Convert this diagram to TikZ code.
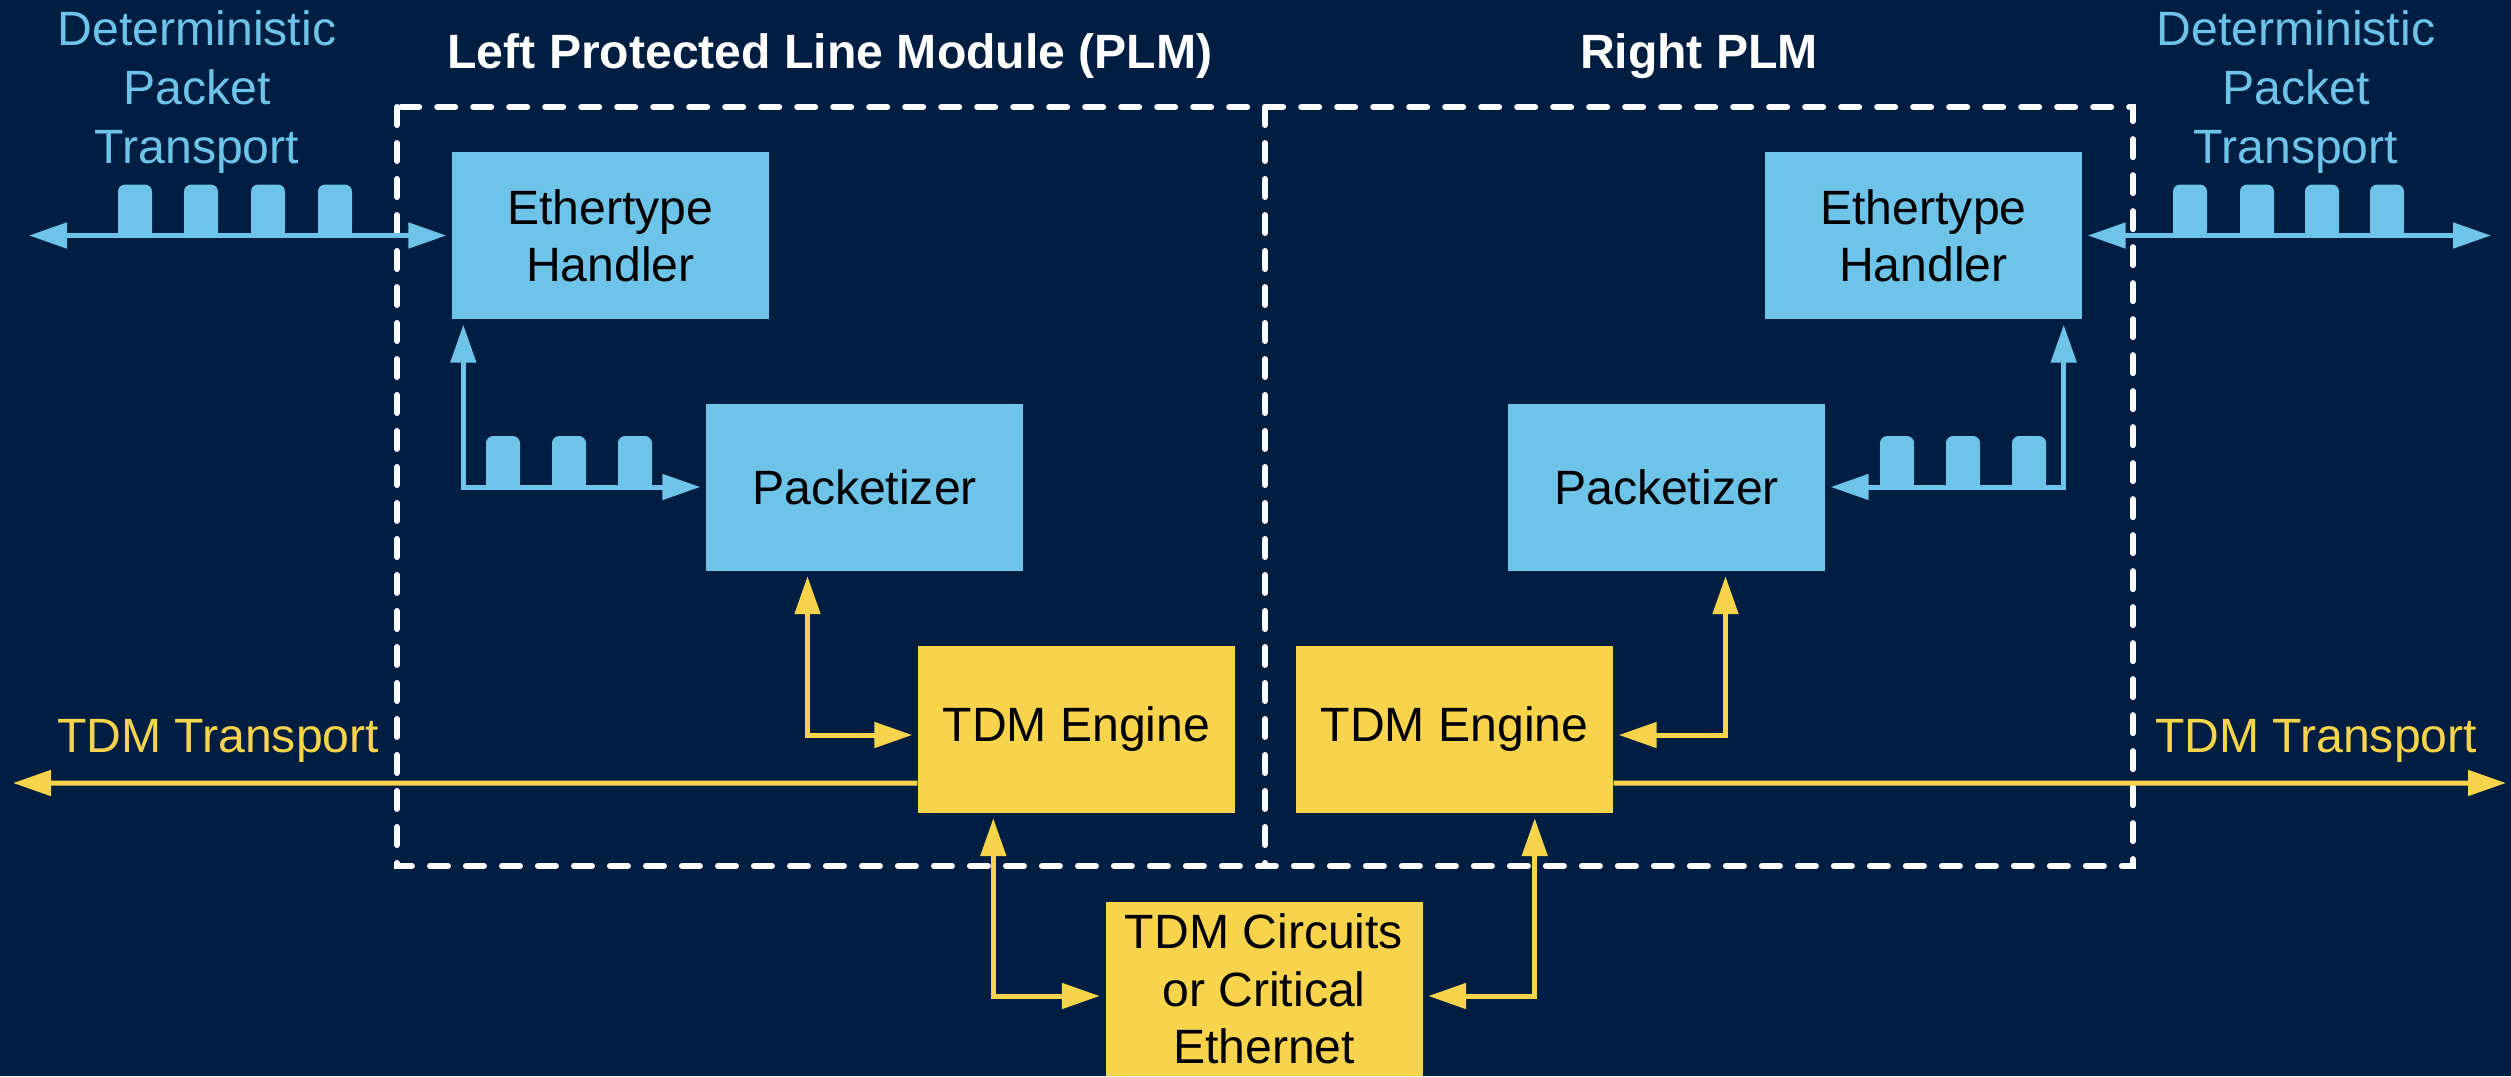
\documentclass[tikz,border=0pt]{standalone}
\usepackage{fontspec}
\setmainfont{Liberation Sans}
\usetikzlibrary{arrows.meta, positioning, calc}
\definecolor{navy}{HTML}{001E42}
\definecolor{skyblue}{HTML}{6EC3E8}
\definecolor{gold}{HTML}{F7D44C}

\begin{document}
\begin{tikzpicture}[
  font=\fontsize{13.7pt}{16.3pt}\selectfont,
  >={Triangle[length=0.38cm, width=0.25cm]},
  pbox/.style={fill=skyblue, minimum width=3.17cm, minimum height=1.67cm, inner sep=0pt, align=center, text=black},
  tbox/.style={fill=gold, minimum width=3.17cm, minimum height=1.67cm, inner sep=0pt, align=center, text=black},
  plm/.style={draw=white, line width=0.06cm, dash pattern=on 0.18cm off 0.18cm, line cap=round},
  ttl/.style={text=white, font=\fontsize{13.7pt}{16.3pt}\selectfont\bfseries},
  lbl/.style={align=center, inner sep=0pt},
  parr/.style={<->, skyblue, line width=0.05cm, shorten <=0.05cm, shorten >=0.05cm},
  yarr/.style={<->, gold, line width=0.05cm, shorten <=0.05cm, shorten >=0.05cm},
  tarr/.style={->, gold, line width=0.05cm},
  pkt/.style={fill=skyblue},
]

\useasboundingbox (0,0) rectangle (25.11,-10.76);
\fill[navy] (0,0) rectangle (25.11,-10.76);

% PLM outlines
\draw[plm] (3.97,-1.07) rectangle (21.33,-8.66);
\draw[plm] (12.65,-1.07) -- (12.65,-8.66);

\node[ttl] (lttl) at (8.30,-0.56) {Left Protected Line Module (PLM)};
\node[ttl] (rttl) at (16.99,-0.56) {Right PLM};

\node[lbl, text=skyblue, font=\fontsize{13.7pt}{16.8pt}\selectfont] (dptL) at (1.97,-0.92) {Deterministic\\Packet\\Transport};
\node[lbl, text=skyblue, font=\fontsize{13.7pt}{16.8pt}\selectfont] (dptR) at (22.96,-0.92) {Deterministic\\Packet\\Transport};
\node[lbl, text=gold] (ttrL) at (2.18,-7.41) {TDM Transport};
\node[lbl, text=gold] (ttrR) at (23.16,-7.41) {TDM Transport};

\node[pbox] (ethL) at (6.105,-2.355) {Ethertype\\Handler};
\node[pbox] (pktL) at (8.645,-4.87) {Packetizer};
\node[tbox] (tdmL) at (10.765,-7.29) {TDM Engine};
\node[tbox] (tdmR) at (14.545,-7.29) {TDM Engine};
\node[pbox] (pktR) at (16.665,-4.87) {Packetizer};
\node[pbox] (ethR) at (19.235,-2.355) {Ethertype\\Handler};
\node[tbox, minimum height=1.74cm] (circ) at (12.64,-9.89) {TDM Circuits\\or Critical\\Ethernet};

\coordinate (pL) at (0.24,-2.355);
\coordinate (pR) at (24.96,-2.355);
\coordinate (tL) at (0.13,-7.83);
\coordinate (tR) at (25.06,-7.83);

% packets
\foreach \px/\py in {1.35/-2.355, 2.01/-2.355, 2.68/-2.355, 3.35/-2.355,
                     21.90/-2.355, 22.57/-2.355, 23.22/-2.355, 23.87/-2.355,
                     5.03/-4.87, 5.69/-4.87, 6.35/-4.87,
                     18.97/-4.87, 19.63/-4.87, 20.29/-4.87}
{
  \fill[pkt, rounded corners=2pt] (\px-0.17,\py-0.02) rectangle (\px+0.17,\py+0.51);
  \fill[pkt] (\px-0.17,\py) rectangle (\px+0.17,\py+0.2);
}

\draw[parr] (pL) -- (ethL.west);
\draw[parr] (ethR.east) -- (pR);
\draw[parr] ([xshift=0.12cm]ethL.south west) |- (pktL.west);
\draw[parr] ([xshift=-0.19cm]ethR.south east) |- (pktR.east);

\draw[yarr] ([xshift=-0.57cm]pktL.south) |- ([yshift=-0.06cm]tdmL.west);
\draw[yarr] ([xshift=0.59cm]pktR.south) |- ([yshift=-0.06cm]tdmR.east);
\draw[tarr] ([yshift=-0.54cm]tdmL.west) -- (tL);
\draw[tarr] ([yshift=-0.54cm]tdmR.east) -- (tR);
\draw[yarr] ([xshift=0.76cm]tdmL.south west) |- ([yshift=-0.07cm]circ.west);
\draw[yarr] ([xshift=-0.79cm]tdmR.south east) |- ([yshift=-0.07cm]circ.east);

\end{tikzpicture}
\end{document}
